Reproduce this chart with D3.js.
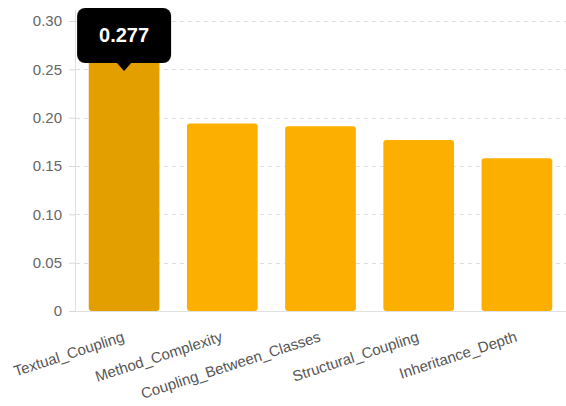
<!DOCTYPE html>
<html><head><meta charset="utf-8">
<script src="https://cdn.jsdelivr.net/npm/d3@7"></script>
<style>body{margin:0;background:#fff;}svg{display:block;font-family:"Liberation Sans",Arial,sans-serif;}</style>
</head><body>
<svg id="chart" width="566" height="406"></svg>
<script>
const categories = ["Textual_Coupling","Method_Complexity","Coupling_Between_Classes","Structural_Coupling","Inheritance_Depth"];
const values = [0.277, 0.194, 0.191, 0.177, 0.158];
const yTicks = [0, 0.05, 0.10, 0.15, 0.20, 0.25, 0.30];
const highlighted = "Textual_Coupling";

const svg = d3.select("#chart");
const mLeft = 75, mRight = 566, mTop = 21, mBottom = 311;

const x = d3.scaleBand().domain(categories).range([mLeft, mRight]).paddingInner(0.28).paddingOuter(0.14);
const y = d3.scaleLinear().domain([0, 0.30]).range([mBottom, mTop]);

// grid
svg.append("g").selectAll("line").data(yTicks.filter(d => d > 0)).join("line")
  .attr("x1", mLeft + 1).attr("x2", mRight).attr("y1", d => Math.round(y(d)) + 0.5).attr("y2", d => Math.round(y(d)) + 0.5)
  .attr("stroke", "#dedede").attr("stroke-dasharray", "4,4").attr("stroke-width", 1);

// y axis
const yAxis = svg.append("g").attr("transform", `translate(${mLeft},0)`)
  .call(d3.axisLeft(y).tickValues(yTicks).tickSize(9).tickPadding(4)
    .tickFormat(d => d === 0 ? "0" : d3.format(".2f")(d)));
yAxis.select(".domain").attr("stroke", "#e0e0e0").attr("d", `M0.5,${mTop - 11}V${mBottom}`);
yAxis.selectAll(".tick line").attr("stroke", "#d8d8d8").attr("stroke-dasharray", "6,10");
yAxis.selectAll(".tick text").attr("fill", "#666").style("font-size", "15px");

// bars
svg.append("g").selectAll("rect").data(categories).join("rect")
  .attr("x", d => x(d)).attr("width", x.bandwidth())
  .attr("y", (d, i) => y(values[i])).attr("height", (d, i) => mBottom - y(values[i]))
  .attr("rx", 3)
  .attr("fill", d => d === highlighted ? "#E39E00" : "#FDAF00");

// x axis
svg.append("line").attr("x1", mLeft).attr("x2", mRight).attr("y1", mBottom + 0.5).attr("y2", mBottom + 0.5)
  .attr("stroke", "#e0e0e0");
const xAxis = svg.append("g").attr("transform", `translate(0,${mBottom})`)
  .call(d3.axisBottom(x).tickSize(0).tickPadding(0));
xAxis.select(".domain").remove();
xAxis.selectAll(".tick text")
  .attr("fill", "#555").style("font-size", "15px")
  .attr("text-anchor", "end")
  .attr("y", 0).attr("dy", "0")
  .attr("transform", "translate(1,30) rotate(-18)");

// tooltip
const hi = categories.indexOf(highlighted);
const cx = x(highlighted) + x.bandwidth() / 2;
const tipBottom = 63, tipTop = 8, tipW = 94;
const tip = svg.append("g");
tip.append("rect").attr("x", cx - tipW / 2).attr("y", tipTop).attr("width", tipW).attr("height", tipBottom - tipTop)
  .attr("rx", 8).attr("fill", "#000");
tip.append("path").attr("d", `M${cx - 8},${tipBottom - 1}L${cx},${tipBottom + 8}L${cx + 8},${tipBottom - 1}Z`).attr("fill", "#000");
tip.append("text").attr("x", cx).attr("y", 42).attr("text-anchor", "middle")
  .attr("fill", "#fff").style("font-size", "20px").style("font-weight", "bold")
  .text(d3.format(".3f")(values[hi]));
</script>
</body></html>
